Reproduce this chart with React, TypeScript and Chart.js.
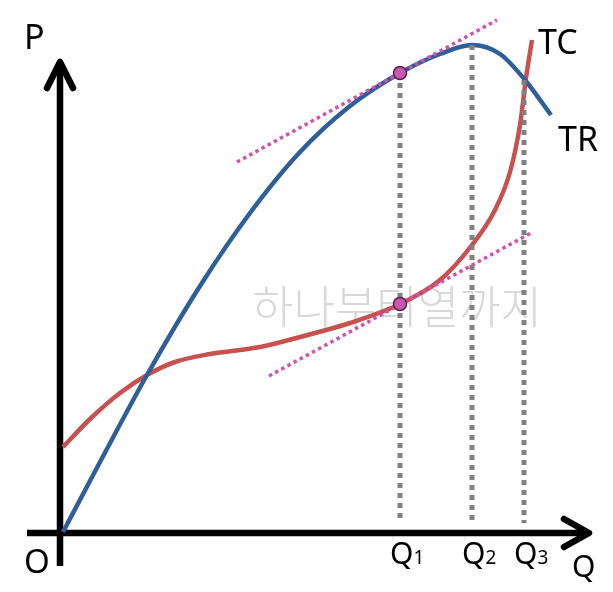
import React, { useEffect, useRef } from "react";
import { Chart, registerables } from "chart.js";

Chart.register(...registerables);

// Total revenue (TR) curve: quantity and value pairs
const trQ = [3, 40, 87, 140, 190, 240, 290, 340, 380, 412, 440, 465, 491];
const trV = [1, 71, 158, 247, 320, 381, 427, 460, 479, 488, 479, 453, 418];

// Total cost (TC) curve
const tcQ = [3, 30, 60, 87, 115, 150, 200, 240, 290, 340, 380, 412, 435, 450, 460, 466, 472];
const tcV = [86, 114, 140, 158, 171, 179, 186, 196, 210, 229, 253, 288, 323, 361, 408, 455, 493];

// Marked quantities Q1, Q2, Q3 and the heights their guide lines reach
const qLevels = [340, 412, 464];
const qTops = [460, 488, 453];
const qSubs = ["1", "2", "3"];

// Tangent lines (parallel: MR = MC at Q1)
const tanUpperQ = [177, 437];
const tanUpperV = [371, 513];
const tanLowerQ = [209, 471];
const tanLowerV = [157, 300];

// Highlighted tangency points at Q1
const markQ = [340, 340];
const markV = [460, 229];

const WATERMARK = "하나부터열까지";

const zip = (xs: number[], ys: number[]) => xs.map((x, i) => ({ x, y: ys[i] }));

const overlay = {
  id: "overlay",
  beforeDatasetsDraw(chart: any) {
    const { ctx, scales } = chart;
    const px = (v: number) => scales.x.getPixelForValue(v);
    const py = (v: number) => scales.y.getPixelForValue(v);
    ctx.save();
    // watermark
    ctx.font = '300 45px "Noto Sans CJK KR"';
    ctx.fillStyle = "#d8d8d8";
    ctx.textAlign = "center";
    ctx.textBaseline = "middle";
    ctx.fillText(WATERMARK, px(337), py(226));
    // axes
    ctx.strokeStyle = "#000";
    ctx.lineWidth = 6.5;
    ctx.lineCap = "butt";
    ctx.beginPath();
    ctx.moveTo(px(-33), py(0));
    ctx.lineTo(px(527), py(0));
    ctx.moveTo(px(0), py(-33));
    ctx.lineTo(px(0), py(468));
    ctx.stroke();
    ctx.lineCap = "round";
    ctx.lineJoin = "round";
    ctx.beginPath();
    ctx.moveTo(px(504), py(14));
    ctx.lineTo(px(529), py(0));
    ctx.lineTo(px(504), py(-14));
    ctx.moveTo(px(-13), py(445));
    ctx.lineTo(px(0), py(471));
    ctx.lineTo(px(13), py(445));
    ctx.stroke();
    ctx.restore();
  },
  afterDatasetsDraw(chart: any) {
    const { ctx, scales } = chart;
    const px = (v: number) => scales.x.getPixelForValue(v);
    const py = (v: number) => scales.y.getPixelForValue(v);
    ctx.save();
    ctx.fillStyle = "#000";
    ctx.textBaseline = "alphabetic";
    ctx.textAlign = "left";
    ctx.font = '34px "Noto Sans"';
    ctx.fillText("P", px(0) - 36, py(484));
    ctx.fillText("TC", px(478), py(479));
    ctx.fillText("TR", px(498), py(382));
    ctx.textAlign = "center";
    ctx.font = '33px "Noto Sans"';
    ctx.fillText("O", px(0) - 23, py(-40));
    ctx.textAlign = "left";
    ctx.font = '30px "Noto Sans"';
    ctx.fillText("Q", px(512), py(-44));
    qLevels.forEach((q, i) => {
      const left = px(q) - 10;
      const base = py(-31);
      ctx.font = '30px "Noto Sans"';
      ctx.fillText("Q", left, base);
      const w = ctx.measureText("Q").width;
      ctx.font = '19px "Noto Sans"';
      ctx.fillText(qSubs[i], left + w, base);
    });
    ctx.restore();
  },
};

export default function App() {
  const ref = useRef<HTMLCanvasElement | null>(null);
  useEffect(() => {
    if (!ref.current) return;
    const pink = "#d052ac";
    const guides = qLevels.map((q, i) => ({
      label: "Q" + qSubs[i],
      data: [
        { x: q, y: qTops[i] },
        { x: q, y: 10 },
      ],
      borderColor: "#808080",
      borderWidth: 5,
      borderDash: [5, 5],
      pointRadius: 0,
      order: 2,
    }));
    const chart = new Chart(ref.current, {
      type: "line",
      data: {
        datasets: [
          {
            label: "marks",
            data: zip(markQ, markV),
            showLine: false,
            pointRadius: 6.5,
            pointBackgroundColor: "#c957ad",
            pointBorderColor: "#5a2050",
            pointBorderWidth: 1.5,
            order: 0,
          },
          {
            label: "tanU",
            data: zip(tanUpperQ, tanUpperV),
            borderColor: pink,
            borderWidth: 3.5,
            borderDash: [3.5, 3.5],
            pointRadius: 0,
            order: 1,
          },
          {
            label: "tanL",
            data: zip(tanLowerQ, tanLowerV),
            borderColor: pink,
            borderWidth: 3.5,
            borderDash: [3.5, 3.5],
            pointRadius: 0,
            order: 1,
          },
          ...guides,
          {
            label: "TR",
            data: zip(trQ, trV),
            borderColor: "#2f5f98",
            borderWidth: 4.5,
            pointRadius: 0,
            cubicInterpolationMode: "monotone",
            order: 3,
          },
          {
            label: "TC",
            data: zip(tcQ, tcV),
            borderColor: "#c8504f",
            borderWidth: 4.5,
            pointRadius: 0,
            cubicInterpolationMode: "monotone",
            order: 4,
          },
        ] as any,
      },
      options: {
        animation: false,
        responsive: false,
        devicePixelRatio: 1,
        clip: false as any,
        layout: { padding: { left: 60, right: 13, top: 10, bottom: 59 } },
        plugins: { legend: { display: false }, tooltip: { enabled: false } },
        events: [],
        scales: {
          x: { type: "linear", min: 0, max: 540, display: false },
          y: { type: "linear", min: 0, max: 523, display: false },
        },
      },
      plugins: [overlay],
    });
    return () => chart.destroy();
  }, []);
  return (
    <div style={{ position: "absolute", left: 0, top: 0, width: 613, height: 592, background: "#fff" }}>
      <canvas ref={ref} width={613} height={592} style={{ display: "block" }} />
    </div>
  );
}
